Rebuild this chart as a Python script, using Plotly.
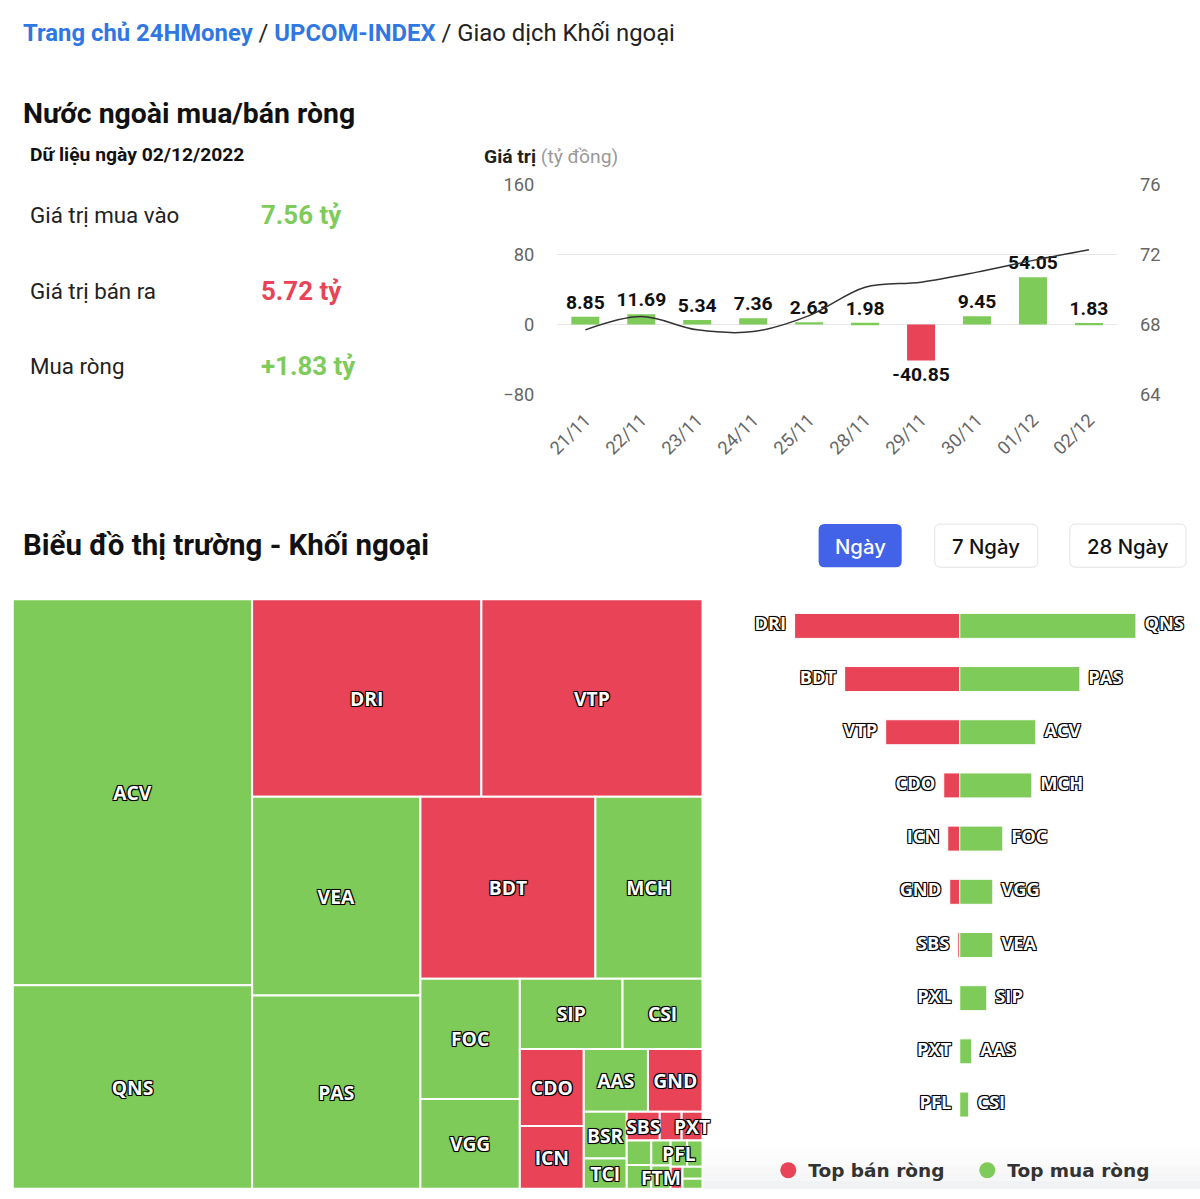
import plotly.graph_objects as go

W, H = 1200, 1199
# the photographed page comes out slightly shrunk and shifted; pre-compensate positions
AX, SX = 13.2, 0.989
AY, SY = 13.2, 0.980
def PX(r): return (r - AX) / SX
def PY(r): return (r - AY) / SY
def X(r): return PX(r) / W
def Y(r): return 1 - PY(r) / H
K = 1 / 0.985  # font compensation

GREEN = "#7ecb5a"
RED = "#e84356"
BLUE = "#2f78e3"

# ---------- data ----------
dates = ["21/11", "22/11", "23/11", "24/11", "25/11", "28/11", "29/11", "30/11", "01/12", "02/12"]
net_values = [8.85, 11.69, 5.34, 7.36, 2.63, 1.98, -40.85, 9.45, 54.05, 1.83]
index_values = [67.70, 68.46, 67.70, 67.60, 68.51, 70.13, 70.42, 70.99, 71.66, 72.27]

tm_labels = ["ACV", "QNS", "DRI", "VTP", "VEA", "PAS", "BDT", "MCH", "FOC", "VGG",
             "SIP", "CSI", "CDO", "ICN", "AAS", "GND", "BSR", "TCI", "SBS", "PXL",
             "PXT", "o1", "o2", "o4", "FTM", "PFL", "o6", "o3", "o5", "o7"]
tm_values = [920, 485, 451, 435, 333, 324, 317, 194, 119, 89,
             72, 56, 49, 40, 40, 34, 20, 13, 9.5, 6.3,
             6.0, 6.0, 5.8, 4.8, 4.5, 4.3, 4.0, 2.6, 2.4, 2.0]
tm_side = ["buy", "buy", "sell", "sell", "buy", "buy", "sell", "buy", "buy", "buy",
           "buy", "buy", "sell", "sell", "buy", "sell", "buy", "buy", "sell", "sell",
           "sell", "buy", "buy", "buy", "buy", "buy", "buy", "sell", "buy", "buy"]
tm_shown = ["ACV", "QNS", "DRI", "VTP", "VEA", "PAS", "BDT", "MCH", "FOC", "VGG",
            "SIP", "CSI", "CDO", "ICN", "AAS", "GND", "BSR", "TCI", "SBS", "PXT", "PFL", "FTM"]
tm_text = [l if l in tm_shown else "" for l in tm_labels]

ranks = [str(i) for i in range(1, 11)]
sell_tickers = ["DRI", "BDT", "VTP", "CDO", "ICN", "GND", "SBS", "PXL", "PXT", "PFL"]
sell_values = [1.65, 1.15, 0.74, 0.16, 0.12, 0.10, 0.02, 0.0, 0.0, 0.0]
buy_tickers = ["QNS", "PAS", "ACV", "MCH", "FOC", "VGG", "VEA", "SIP", "AAS", "CSI"]
buy_values = [1.76, 1.20, 0.76, 0.72, 0.43, 0.33, 0.33, 0.27, 0.12, 0.09]

OUTLINE = "-1px -1px 0 #000, 1px -1px 0 #000, -1px 1px 0 #000, 1px 1px 0 #000, 0 0 2px #000"

fig = go.Figure()

# ---------- top bar + line chart ----------
fig.add_trace(go.Bar(
    x=dates, y=net_values, xaxis="x", yaxis="y",
    marker=dict(color=[GREEN if v >= 0 else RED for v in net_values], line=dict(width=0)),
    width=0.5, texttemplate="%{y:.2f}", textposition="outside", constraintext="none",
    textfont=dict(family="Roboto", size=19 * K, color="#111", weight="bold"),
    cliponaxis=False, showlegend=False, hoverinfo="x+y"))
fig.add_trace(go.Scatter(
    x=dates, y=index_values, xaxis="x", yaxis="y2", mode="lines",
    line=dict(color="#333", width=1.5, shape="spline"), showlegend=False))

# ---------- treemap (tiles, then an identical transparent layer carrying the labels) ----------
tm_domain = dict(x=[X(14), X(703)], y=[max(0, Y(1188)), Y(600)])
tm_font = dict(family="Open Sans", size=19 * K, color="white", weight="bold", shadow=OUTLINE)
fig.add_trace(go.Treemap(
    labels=tm_labels, parents=[""] * len(tm_labels), values=tm_values,
    textinfo="none",
    marker=dict(colors=[GREEN if s == "buy" else RED for s in tm_side],
                line=dict(color="white", width=2), pad=dict(t=0, l=0, r=0, b=0)),
    tiling=dict(pad=0), pathbar=dict(visible=False), sort=True,
    domain=tm_domain, hoverinfo="skip"))
fig.add_trace(go.Treemap(
    labels=tm_labels, parents=[""] * len(tm_labels), values=tm_values,
    text=tm_text, textinfo="text", textposition="middle center",
    marker=dict(colors=["rgba(0,0,0,0)"] * len(tm_labels),
                line=dict(color="rgba(0,0,0,0)", width=0), pad=dict(t=0, l=0, r=0, b=0)),
    tiling=dict(pad=0), pathbar=dict(visible=False), sort=True,
    textfont=tm_font, domain=tm_domain, hoverinfo="skip"))

# ---------- butterfly ----------
fig.add_trace(go.Bar(
    y=ranks, x=[-v for v in sell_values], orientation="h", xaxis="x3", yaxis="y3",
    marker=dict(color=RED, line=dict(color="white", width=1)), width=0.47,
    showlegend=False, hoverinfo="skip"))
fig.add_trace(go.Bar(
    y=ranks, x=buy_values, orientation="h", xaxis="x3", yaxis="y3",
    marker=dict(color=GREEN, line=dict(color="white", width=1)), width=0.47,
    showlegend=False, hoverinfo="skip"))
lab_font = dict(family="Open Sans", size=18 * K, color="white", weight="bold", shadow=OUTLINE)
ghost = dict(size=12, color="rgba(0,0,0,0)")
fig.add_trace(go.Scatter(
    y=ranks, x=[-v for v in sell_values], mode="markers+text", text=sell_tickers, marker=ghost,
    textposition="middle left", textfont=lab_font, xaxis="x3", yaxis="y3",
    showlegend=False, hoverinfo="skip", cliponaxis=False))
fig.add_trace(go.Scatter(
    y=ranks, x=buy_values, mode="markers+text", text=buy_tickers, marker=ghost,
    textposition="middle right", textfont=lab_font, xaxis="x3", yaxis="y3",
    showlegend=False, hoverinfo="skip", cliponaxis=False))
# legend entries
fig.add_trace(go.Scatter(x=[None], y=[None], mode="markers", name="Top bán ròng",
                         marker=dict(color=RED, size=20, symbol="circle"), xaxis="x3", yaxis="y3"))
fig.add_trace(go.Scatter(x=[None], y=[None], mode="markers", name="Top mua ròng",
                         marker=dict(color=GREEN, size=20, symbol="circle"), xaxis="x3", yaxis="y3"))

tickfont = dict(family="Roboto", size=18 * K, color="#666")
fig.update_layout(
    width=W, height=H, margin=dict(l=0, r=0, t=0, b=0),
    paper_bgcolor="white", plot_bgcolor="white",
    uniformtext=dict(minsize=19 * K, mode="show"),
    bargap=0.5, barmode="overlay",
    xaxis=dict(domain=[X(558), X(1117)], type="category", tickangle=-45, tickfont=tickfont,
               showgrid=False, showline=False, ticks="", ticklabelstandoff=10, anchor="y"),
    yaxis=dict(domain=[Y(396), Y(186)], range=[-80, 160], tickvals=[-80, 0, 80, 160],
               tickfont=tickfont, showgrid=True, gridcolor="#e6e6e6", gridwidth=1,
               zeroline=False, ticklabelstandoff=22, anchor="x"),
    yaxis2=dict(overlaying="y", side="right", range=[64, 76], tickvals=[64, 68, 72, 76],
                tickfont=tickfont, showgrid=False, zeroline=False, ticklabelstandoff=22, anchor="x"),
    xaxis3=dict(domain=[X(760), X(1160)], range=[-2, 2], visible=False, anchor="y3"),
    yaxis3=dict(domain=[Y(1130.5), Y(600)], type="category", range=[9.5, -0.5], visible=False,
                anchor="x3"),
    legend=dict(orientation="h", x=(PX(788) - 19.5) / W, y=Y(1170), xanchor="left", yanchor="middle",
                font=dict(family="DejaVu Sans", size=18.5, color="#333", weight="bold"),
                entrywidth=154, entrywidthmode="pixels", bgcolor="rgba(0,0,0,0)"),
)

ann = []
def A(px, py, text, size, color="#111", family="Roboto", xanchor="left", weight=None):
    f = dict(family=family, size=size * K, color=color)
    if weight:
        f["weight"] = weight
    ann.append(dict(x=X(px), y=Y(py), xref="paper", yref="paper", text=text, showarrow=False,
                    xanchor=xanchor, yanchor="middle", font=f))

A(22, 35, f"<b><span style='color:{BLUE}'>Trang chủ 24HMoney</span></b> / "
          f"<b><span style='color:{BLUE}'>UPCOM-INDEX</span></b> / Giao dịch Khối ngoại", 23.5, "#222")
A(22, 115, "<b>Nước ngoài mua/bán ròng</b>", 28)
A(29, 156, "<b>Dữ liệu ngày 02/12/2022</b>", 19)
A(29, 217, "Giá trị mua vào", 22, "#222")
A(29, 292, "Giá trị bán ra", 22, "#222")
A(29, 367, "Mua ròng", 22, "#222")
A(260, 217, "<b>7.56 tỷ</b>", 25.5, GREEN)
A(260, 292, "<b>5.72 tỷ</b>", 25.5, RED)
A(260, 367, "<b>+1.83 tỷ</b>", 25.5, GREEN)
A(483, 158, "<b>Giá trị</b> <span style='color:#999'>(tỷ đồng)</span>", 19, "#222")
A(22, 546, "<b>Biểu đồ thị trường - Khối ngoại</b>", 29)
A(860.5, 547, "Ngày", 20, "white", "Inter", "center", 500)
A(986.5, 547, "7 Ngày", 20, "#111", "Inter", "center", 500)
A(1128, 547, "28 Ngày", 20, "#111", "Inter", "center", 500)
fig.update_layout(annotations=ann)

def rrect(x0, y0, x1, y1, r):
    p = lambda a, b: f"{X(a):.5f},{Y(b):.5f}"
    return (f"M{p(x0 + r, y0)} L{p(x1 - r, y0)} Q{p(x1, y0)} {p(x1, y0 + r)} "
            f"L{p(x1, y1 - r)} Q{p(x1, y1)} {p(x1 - r, y1)} L{p(x0 + r, y1)} "
            f"Q{p(x0, y1)} {p(x0, y1 - r)} L{p(x0, y0 + r)} Q{p(x0, y0)} {p(x0 + r, y0)} Z")

shapes = [
    dict(type="path", xref="paper", yref="paper", path=rrect(819, 525, 902, 568, 6),
         fillcolor="#4262e8", line=dict(width=0)),
    dict(type="path", xref="paper", yref="paper", path=rrect(935, 525, 1038, 568, 6),
         fillcolor="white", line=dict(color="#e2e2e2", width=1)),
    dict(type="path", xref="paper", yref="paper", path=rrect(1070, 525, 1186, 568, 6),
         fillcolor="white", line=dict(color="#e2e2e2", width=1)),
]
# faint grey fade at the bottom of the page
greys = ["#fdfdfd", "#fbfbfc", "#f8f8f9", "#f5f6f7", "#f1f2f4"]
for i, g in enumerate(greys):
    shapes.append(dict(type="rect", xref="paper", yref="paper", layer="below",
                       x0=0, x1=1, y0=max(0, Y(1148 + i * 8 + 8)) if i < 4 else 0,
                       y1=Y(1148 + i * 8), fillcolor=g, line=dict(width=0)))
fig.update_layout(shapes=shapes)

fig.write_html("out.html", config={"displayModeBar": False},
               post_script="document.body.style.margin='0';document.body.style.overflow='hidden';")
